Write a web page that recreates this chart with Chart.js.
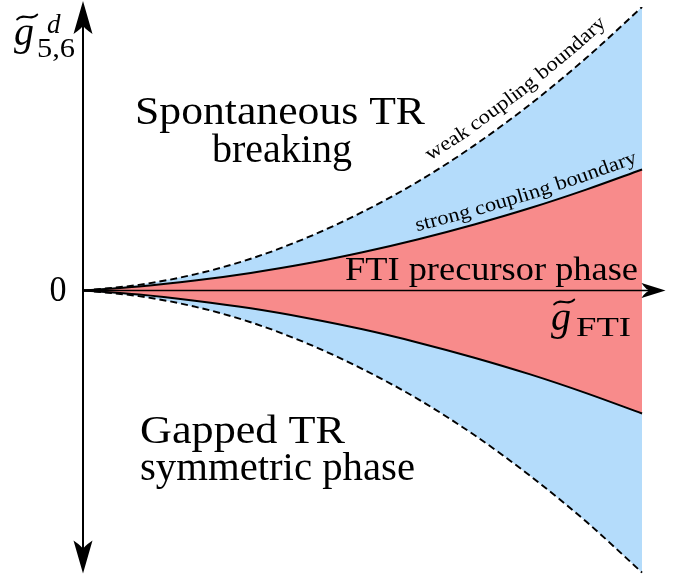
<!DOCTYPE html>
<html>
<head>
<meta charset="utf-8">
<script src="https://cdn.jsdelivr.net/npm/chart.js@4.4.1/dist/chart.umd.min.js"></script>
<style>
  body { margin: 0; background: #fff; }
</style>
</head>
<body>
<canvas id="phase" width="689" height="581"></canvas>
<script>
// coupling g_FTI (horizontal) and the phase boundaries in g_5,6 (vertical)
const gFTI = [0, 0.1, 0.2, 0.3, 0.4, 0.5, 0.6, 0.7, 0.8, 0.9, 1.0];
const weakUpper = [0, 0.02, 0.057, 0.112, 0.186, 0.277, 0.385, 0.512, 0.657, 0.82, 1.0];
const strongUpper = [0, 0.014, 0.035, 0.062, 0.095, 0.135, 0.181, 0.233, 0.291, 0.356, 0.427];
const strongLower = [0, -0.014, -0.036, -0.063, -0.097, -0.137, -0.184, -0.237, -0.296, -0.362, -0.434];
const weakLower = [0, -0.02, -0.057, -0.112, -0.186, -0.277, -0.384, -0.51, -0.654, -0.815, -0.995];

const regionTop = ['Spontaneous TR', 'breaking'];
const regionBottom = ['Gapped TR', 'symmetric phase'];
const regionMiddle = 'FTI precursor phase';
const weakLabel = 'weak coupling boundary';
const strongLabel = 'strong coupling boundary';
const zeroTick = '0';

const BLUE = 'rgb(180, 220, 251)';
const RED = 'rgb(248, 139, 139)';
const SERIF = '"Liberation Serif", "DejaVu Serif", serif';

const pts = (ys) => gFTI.map((x, i) => ({x: x, y: ys[i]}));

// text squeezed/stretched to the width it has in the figure
function fitText(ctx, text, x, y, size, width, align, style) {
    ctx.font = (style || '') + ' ' + size + 'px ' + SERIF;
    const w = ctx.measureText(text).width;
    const k = width / w;
    ctx.save();
    ctx.translate(x, y);
    ctx.scale(k, 1);
    ctx.textAlign = 'left';
    let x0 = 0;
    if (align === 'center') x0 = -w / 2;
    if (align === 'right') x0 = -w;
    ctx.fillText(text, x0, 0);
    ctx.restore();
}

function textOnCurve(ctx, line, text, startX, offset, size, stretch) {
    const segs = [];
    let total = 0;
    for (let i = 1; i < line.length; i++) {
        const a = line[i - 1], b = line[i];
        const len = Math.hypot(b.x - a.x, b.y - a.y);
        segs.push({a: a, b: b, len: len, s0: total});
        total += len;
    }
    let s = 0;
    segs.forEach(g => {
        if (startX >= g.a.x && startX <= g.b.x) s = g.s0 + (startX - g.a.x) / (g.b.x - g.a.x) * g.len;
    });
    ctx.font = size + 'px ' + SERIF;
    ctx.textAlign = 'center';
    for (const ch of text) {
        const w = ctx.measureText(ch).width * stretch;
        const m = s + w / 2;
        const g = segs.find(q => m <= q.s0 + q.len) || segs[segs.length - 1];
        const u = (m - g.s0) / g.len;
        const x = g.a.x + u * (g.b.x - g.a.x);
        const y = g.a.y + u * (g.b.y - g.a.y);
        const ang = Math.atan2(g.b.y - g.a.y, g.b.x - g.a.x);
        ctx.save();
        ctx.translate(x, y);
        ctx.rotate(ang);
        ctx.scale(stretch, 1);
        ctx.fillText(ch, 0, -offset);
        ctx.restore();
        s += w;
    }
}

function arrowHead(ctx, tipX, tipY, dirX, dirY, len, half, notch) {
    const nx = -dirY, ny = dirX;
    const bx = tipX - dirX * len, by = tipY - dirY * len;
    ctx.beginPath();
    ctx.moveTo(tipX, tipY);
    ctx.lineTo(bx + nx * half, by + ny * half);
    ctx.quadraticCurveTo(tipX - dirX * len * 0.8, tipY - dirY * len * 0.8, tipX - dirX * notch, tipY - dirY * notch);
    ctx.quadraticCurveTo(tipX - dirX * len * 0.8, tipY - dirY * len * 0.8, bx - nx * half, by - ny * half);
    ctx.closePath();
    ctx.fill();
}

// italic g with a wide tilde on top
function tildeG(ctx, x, y, size) {
    ctx.font = 'italic ' + size + 'px ' + SERIF;
    ctx.textAlign = 'left';
    ctx.fillText('g', x, y);
    const tx = x + size * 0.08, ty = y - size * 0.7, tw = size * 0.5, a = size * 0.06;
    ctx.save();
    ctx.lineWidth = size * 0.05;
    ctx.lineCap = 'round';
    ctx.beginPath();
    ctx.moveTo(tx, ty + a);
    ctx.bezierCurveTo(tx + tw * 0.3, ty - a * 2, tx + tw * 0.7, ty + a * 2, tx + tw, ty - a);
    ctx.stroke();
    ctx.restore();
}

const decorations = {
    id: 'decorations',
    afterDatasetsDraw(chart) {
        const ctx = chart.ctx;
        const xs = chart.scales.x, ys = chart.scales.y;
        const x0 = xs.getPixelForValue(0), y0 = ys.getPixelForValue(0);
        ctx.save();
        ctx.fillStyle = '#000';
        ctx.strokeStyle = '#000';

        // horizontal axis
        ctx.lineWidth = 1.5;
        ctx.beginPath();
        ctx.moveTo(x0, y0);
        ctx.lineTo(xs.getPixelForValue(1.03), y0);
        ctx.stroke();
        arrowHead(ctx, xs.getPixelForValue(1.042), y0, 1, 0, 24, 7.5, 15);

        // vertical axis
        ctx.lineWidth = 2;
        ctx.beginPath();
        ctx.moveTo(x0, ys.getPixelForValue(1.0) + 15);
        ctx.lineTo(x0, ys.getPixelForValue(-0.995) - 15);
        ctx.stroke();
        arrowHead(ctx, x0, chart.chartArea.top - 6, 0, -1, 33, 9.5, 24);
        arrowHead(ctx, x0, ys.getPixelForValue(-0.995) + 1, 0, 1, 33, 9.5, 24);

        // region names
        ctx.textBaseline = 'alphabetic';
        fitText(ctx, regionTop[0], 135, 124, 40, 290, 'left');
        fitText(ctx, regionTop[1], 282, 162, 40, 140, 'center');
        fitText(ctx, regionBottom[0], 140, 443, 39, 205, 'left');
        fitText(ctx, regionBottom[1], 140, 480, 39, 275, 'left');
        fitText(ctx, regionMiddle, 638, 280, 34, 293, 'right');
        fitText(ctx, zeroTick, 58, 301, 35, 17, 'center');

        // axis titles
        tildeG(ctx, 14, 45, 40);
        ctx.font = 'italic 27px ' + SERIF;
        ctx.fillText('d', 47, 33);
        fitText(ctx, '5,6', 37, 57, 28, 38, 'left');
        tildeG(ctx, 551, 330, 40);
        fitText(ctx, 'FTI', 576, 336, 27, 55, 'left');

        // boundary names along the curves
        const wk = chart.getDatasetMeta(0).data.map(p => ({x: p.x, y: p.y}));
        const st = chart.getDatasetMeta(1).data.map(p => ({x: p.x, y: p.y}));
        textOnCurve(ctx, wk, weakLabel, 436, 11, 20, 1.14);
        textOnCurve(ctx, st, strongLabel, 419, 8, 20, 1.13);
        ctx.restore();
    }
};

const line = (data, dash, width, fill, color) => ({
    data: pts(data),
    borderColor: '#000',
    borderWidth: width,
    borderDash: dash,
    backgroundColor: color,
    fill: fill,
    pointRadius: 0,
    cubicInterpolationMode: 'monotone'
});

new Chart(document.getElementById('phase'), {
    type: 'line',
    data: {
        datasets: [
            line(weakUpper, [7, 4], 1.9, '+1', BLUE),
            line(strongUpper, [], 2, '+1', RED),
            line(strongLower, [], 2, '+1', BLUE),
            line(weakLower, [7, 4], 1.9, false, BLUE)
        ]
    },
    options: {
        responsive: false,
        animation: false,
        layout: {padding: {left: 83, right: 19, top: 7, bottom: 7}},
        scales: {
            x: {type: 'linear', min: 0, max: 1.05, display: false},
            y: {min: -1, max: 1, display: false}
        },
        plugins: {
            legend: {display: false},
            tooltip: {enabled: false},
            filler: {drawTime: 'beforeDatasetsDraw'}
        }
    },
    plugins: [decorations]
});
</script>
</body>
</html>
